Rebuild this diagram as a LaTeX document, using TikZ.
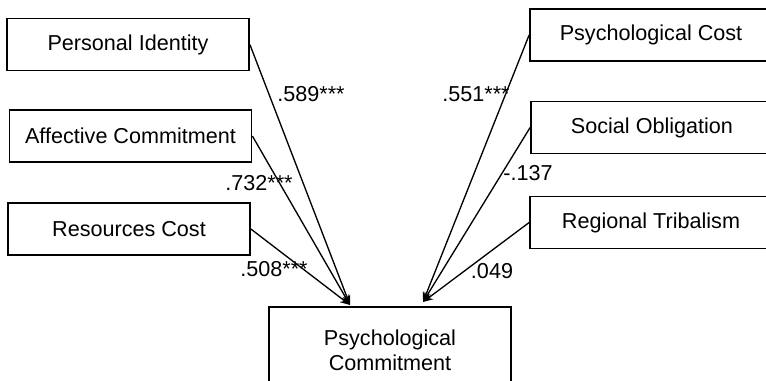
\documentclass[tikz,border=0pt]{standalone}
\usepackage{fontspec}
\setmainfont{Liberation Sans}
\usetikzlibrary{arrows.meta}

\begin{document}
\begin{tikzpicture}[x=0.75pt,y=-0.75pt,>={Stealth[length=7.5pt,width=6pt]},
  box/.style={draw,line width=1.3pt,minimum width=181.5pt,minimum height=39pt,inner sep=0pt,
    font=\fontsize{16.2}{19}\selectfont},
  coef/.style={inner sep=0pt,font=\fontsize{16.2}{19}\selectfont},
  path/.style={->,line width=1pt}]
  \useasboundingbox (0,0) rectangle (766,381);
  \clip (0,0) rectangle (766,381);
  % predictors, left
  \node[box] (pi) at (128,44.5) {Personal Identity};
  \node[box] (ac) at (130.5,136) {Affective Commitment};
  \node[box] (rc) at (129,229) {Resources Cost};
  % predictors, right
  \node[box] (pcost) at (651,35) {Psychological Cost};
  \node[box] (so) at (652,127.5) {Social Obligation};
  \node[box] (rt) at (651,222.5) {Regional Tribalism};
  % outcome
  \node[box,minimum height=64.5pt,align=center] (pcom) at (390,350) {Psychological\\Commitment};
  \coordinate (inL) at (350,305);
  \coordinate (inR) at (423,302);
  \draw[path] (pi.east) -- (inL);
  \draw[path] (ac.east) -- (inL);
  \draw[path] (rc.east) -- (inL);
  \draw[path] (pcost.west) -- (inR);
  \draw[path] (so.west) -- (inR);
  \draw[path] (rt.west) -- (inR);
  % coefficients
  \node[coef] (c1) at (311,94) {.589***};
  \node[coef] (c2) at (259,183) {.732***};
  \node[coef] (c3) at (274,269) {.508***};
  \node[coef] (c4) at (476,94) {.551***};
  \node[coef] (c5) at (528,173) {-.137};
  \node[coef] (c6) at (492,271) {.049};
\end{tikzpicture}
\end{document}
